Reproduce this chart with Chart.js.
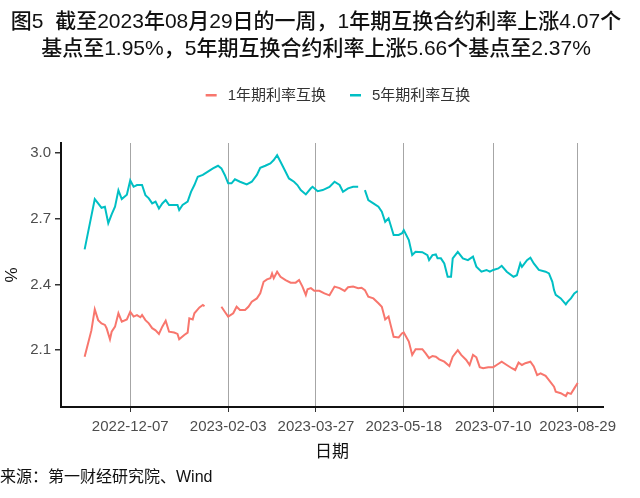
<!DOCTYPE html>
<html>
<head>
<meta charset="utf-8">
<script src="https://cdn.jsdelivr.net/npm/chart.js@4"></script>
<style>
  body { margin: 0; background: #fff; }
  #swap-chart { display: block; }
</style>
</head>
<body>
<canvas id="swap-chart" width="640" height="498"></canvas>
<script>
// 1年期利率互换
const dates1 = [
  '2022-11-10','2022-11-14','2022-11-16','2022-11-18','2022-11-20','2022-11-22','2022-11-23','2022-11-25',
  '2022-11-26','2022-11-28','2022-11-30','2022-12-02','2022-12-05','2022-12-07','2022-12-09','2022-12-11',
  '2022-12-13','2022-12-14','2022-12-16','2022-12-18','2022-12-20','2022-12-22','2022-12-24','2022-12-26',
  '2022-12-28','2022-12-30','2023-01-02','2023-01-04','2023-01-05','2023-01-08','2023-01-10','2023-01-11',
  '2023-01-13','2023-01-14','2023-01-17','2023-01-19','2023-01-20','2023-01-25','2023-01-30','2023-02-01',
  '2023-02-03','2023-02-06','2023-02-08','2023-02-10','2023-02-13','2023-02-15','2023-02-17','2023-02-20',
  '2023-02-22','2023-02-24','2023-02-26','2023-02-28','2023-03-01','2023-03-02','2023-03-04','2023-03-06',
  '2023-03-09','2023-03-12','2023-03-15','2023-03-17','2023-03-19','2023-03-21','2023-03-22','2023-03-24',
  '2023-03-26','2023-03-29','2023-04-01','2023-04-04','2023-04-07','2023-04-10','2023-04-13','2023-04-15',
  '2023-04-18','2023-04-21','2023-04-23','2023-04-25','2023-04-27','2023-04-30','2023-05-03','2023-05-05',
  '2023-05-07','2023-05-09','2023-05-10','2023-05-12','2023-05-15','2023-05-17','2023-05-18','2023-05-21',
  '2023-05-23','2023-05-25','2023-05-29','2023-05-31','2023-06-02','2023-06-04','2023-06-06','2023-06-08',
  '2023-06-11','2023-06-14','2023-06-16','2023-06-19','2023-06-21','2023-06-24','2023-06-26','2023-06-28',
  '2023-06-30','2023-07-02','2023-07-04','2023-07-07','2023-07-10','2023-07-12','2023-07-15','2023-07-18',
  '2023-07-21','2023-07-23','2023-07-25','2023-07-27','2023-07-29','2023-08-01','2023-08-03','2023-08-05',
  '2023-08-07','2023-08-10','2023-08-12','2023-08-15','2023-08-16','2023-08-19','2023-08-22','2023-08-23',
  '2023-08-25','2023-08-27','2023-08-29'
];
const rate1y = [
  2.07, 2.19, 2.286, 2.237, 2.222, 2.215, 2.20, 2.149,
  2.184, 2.207, 2.268, 2.23, 2.24, 2.275, 2.253, 2.26,
  2.25, 2.26, 2.237, 2.222, 2.20, 2.19, 2.174, 2.207,
  2.234, 2.184, 2.18, 2.174, 2.149, 2.169, 2.18, 2.245,
  2.24, 2.268, 2.295, 2.306, 2.30, null, 2.298, 2.275,
  2.253, 2.268, 2.298, 2.283, 2.283, 2.298, 2.321, 2.336,
  2.359, 2.412, 2.423, 2.428, 2.45, 2.428, 2.458, 2.435,
  2.42, 2.408, 2.408, 2.42, 2.39, 2.352, 2.378, 2.383,
  2.371, 2.371, 2.359, 2.35, 2.39, 2.383, 2.37, 2.387,
  2.39, 2.383, 2.385, 2.374, 2.344, 2.336, 2.314, 2.298,
  2.24, 2.253, 2.222, 2.161, 2.158, 2.177, 2.18, 2.139,
  2.078, 2.104, 2.104, 2.085, 2.063, 2.073, 2.07, 2.058,
  2.047, 2.027, 2.07, 2.10, 2.078, 2.055, 2.032, 2.078,
  2.067, 2.022, 2.017, 2.022, 2.022, 2.032, 2.047, 2.032,
  2.017, 2.009, 2.043, 2.032, 2.04, 2.047, 2.025, 1.986,
  1.994, 1.982, 1.963, 1.933, 1.91, 1.903, 1.89, 1.905,
  1.90, 1.925, 1.95
];

// 5年期利率互换
const dates5 = [
  '2022-11-10','2022-11-16','2022-11-18','2022-11-20','2022-11-22','2022-11-24','2022-11-26','2022-11-28',
  '2022-11-30','2022-12-02','2022-12-05','2022-12-07','2022-12-09','2022-12-11','2022-12-14','2022-12-16',
  '2022-12-18','2022-12-20','2022-12-22','2022-12-24','2022-12-26','2022-12-28','2022-12-30','2023-01-02',
  '2023-01-04','2023-01-05','2023-01-07','2023-01-10','2023-01-12','2023-01-14','2023-01-16','2023-01-19',
  '2023-01-22','2023-01-25','2023-01-28','2023-01-30','2023-02-01','2023-02-03','2023-02-05','2023-02-07',
  '2023-02-10','2023-02-14','2023-02-17','2023-02-20','2023-02-22','2023-02-25','2023-02-28','2023-03-02',
  '2023-03-04','2023-03-06','2023-03-09','2023-03-11','2023-03-14','2023-03-16','2023-03-18','2023-03-21',
  '2023-03-24','2023-03-25','2023-03-28','2023-03-31','2023-04-04','2023-04-07','2023-04-10','2023-04-12',
  '2023-04-15','2023-04-18','2023-04-21','2023-04-23','2023-04-25','2023-04-27','2023-04-30','2023-05-03',
  '2023-05-05','2023-05-07','2023-05-09','2023-05-12','2023-05-15','2023-05-17','2023-05-18','2023-05-21',
  '2023-05-23','2023-05-25','2023-05-29','2023-06-01','2023-06-02','2023-06-04','2023-06-06','2023-06-07',
  '2023-06-09','2023-06-11','2023-06-13','2023-06-15','2023-06-16','2023-06-19','2023-06-22','2023-06-25',
  '2023-06-28','2023-06-30','2023-07-03','2023-07-06','2023-07-08','2023-07-10','2023-07-13','2023-07-15',
  '2023-07-18','2023-07-22','2023-07-24','2023-07-26','2023-07-27','2023-07-30','2023-08-01','2023-08-03',
  '2023-08-06','2023-08-10','2023-08-12','2023-08-14','2023-08-15','2023-08-16','2023-08-19','2023-08-22',
  '2023-08-23','2023-08-25','2023-08-27','2023-08-29'
];
const rate5y = [
  2.56, 2.79, 2.77, 2.75, 2.755, 2.68, 2.72, 2.755,
  2.83, 2.79, 2.81, 2.875, 2.846, 2.854, 2.854, 2.808,
  2.793, 2.77, 2.778, 2.747, 2.77, 2.785, 2.763, 2.763,
  2.763, 2.74, 2.763, 2.778, 2.823, 2.854, 2.892, 2.90,
  2.915, 2.93, 2.942, 2.93, 2.90, 2.862, 2.862, 2.88,
  2.869, 2.857, 2.869, 2.90, 2.933, 2.942, 2.953, 2.968,
  2.99, 2.96, 2.915, 2.884, 2.869, 2.854, 2.831, 2.811,
  2.839, 2.846, 2.826, 2.831, 2.845, 2.869, 2.854, 2.823,
  2.839, 2.846, 2.846, null, 2.831, 2.785, 2.77, 2.755,
  2.732, 2.686, 2.702, 2.626, 2.626, 2.634, 2.648, 2.603,
  2.534, 2.549, 2.547, 2.534, 2.511, 2.534, 2.537, 2.519,
  2.519, 2.496, 2.435, 2.435, 2.519, 2.549, 2.519, 2.511,
  2.527, 2.481, 2.458, 2.466, 2.458, 2.466, 2.473, 2.485,
  2.458, 2.435, 2.442, 2.496, 2.48, 2.511, 2.522, 2.496,
  2.466, 2.458, 2.45, 2.412, 2.374, 2.352, 2.336, 2.309,
  2.32, 2.336, 2.359, 2.37
];

const tickDates = ['2022-12-07', '2023-02-03', '2023-03-27', '2023-05-18', '2023-07-10', '2023-08-29'];
const yTicks = [2.1, 2.4, 2.7, 3.0];
const seriesNames = ['1年期利率互换', '5年期利率互换'];
const seriesColors = ['#F8766D', '#00BFC4'];

const titleLines = [
  '图5  截至2023年08月29日的一周，1年期互换合约利率上涨4.07个',
  '基点至1.95%，5年期互换合约利率上涨5.66个基点至2.37%'
];
const sourceText = '来源：第一财经研究院、Wind';

const FONT = "'Liberation Sans', 'Noto Sans CJK SC', sans-serif";
const baseDay = Date.parse(tickDates[0]);
const toDay = (d) => (Date.parse(d) - baseDay) / 86400000;

const toPoints = (dates, values) => dates.map((d, i) => ({ x: toDay(d), y: values[i] }));

// title, legend, axis titles and source note
const textPlugin = {
  id: 'texts',
  afterDraw(chart) {
    const ctx = chart.ctx;
    const area = chart.chartArea;
    ctx.save();
    ctx.fillStyle = '#111';
    ctx.textBaseline = 'middle';
    ctx.textAlign = 'center';
    ctx.font = `500 21px ${FONT}`;
    ctx.fillText(titleLines[0], 316, 22);
    ctx.fillText(titleLines[1], 316, 49);

    // legend
    ctx.font = `15px ${FONT}`;
    const swatch = 11, gap = 11, between = 24;
    const widths = seriesNames.map((n) => ctx.measureText(n).width);
    const total = widths.reduce((a, w) => a + swatch + gap + w, 0) + between;
    let x = 338 - total / 2;
    ctx.textAlign = 'left';
    seriesNames.forEach((name, i) => {
      ctx.fillStyle = seriesColors[i];
      ctx.fillRect(x, 94, swatch, 2.5);
      ctx.fillStyle = '#333';
      ctx.fillText(name, x + swatch + gap, 96);
      x += swatch + gap + widths[i] + between;
    });

    // axis titles
    ctx.fillStyle = '#111';
    ctx.textAlign = 'center';
    ctx.font = `17px ${FONT}`;
    ctx.fillText('日期', (area.left + area.right) / 2, 452);
    ctx.save();
    ctx.translate(12, (area.top + area.bottom) / 2);
    ctx.rotate(-Math.PI / 2);
    ctx.fillText('%', 0, 0);
    ctx.restore();

    ctx.textAlign = 'left';
    ctx.font = `16px ${FONT}`;
    ctx.fillText(sourceText, 0, 478);
    ctx.restore();
  }
};

const ctx = document.getElementById('swap-chart').getContext('2d');
const chart = new Chart(ctx, {
  type: 'line',
  data: {
    datasets: [
      {
        label: seriesNames[0],
        data: toPoints(dates1, rate1y),
        borderColor: seriesColors[0],
        backgroundColor: seriesColors[0],
        borderWidth: 2,
        pointRadius: 0,
        spanGaps: false,
        tension: 0
      },
      {
        label: seriesNames[1],
        data: toPoints(dates5, rate5y),
        borderColor: seriesColors[1],
        backgroundColor: seriesColors[1],
        borderWidth: 2,
        pointRadius: 0,
        spanGaps: false,
        tension: 0
      }
    ]
  },
  options: {
    responsive: false,
    animation: false,
    layout: { padding: { top: 143, right: 37, left: 0, bottom: 0 } },
    plugins: {
      legend: { display: false },
      title: { display: false },
      tooltip: { enabled: false }
    },
    scales: {
      x: {
        type: 'linear',
        min: -41,
        max: 280,
        afterFit: (scale) => { scale.height = 91; },
        afterBuildTicks: (scale) => {
          scale.ticks = tickDates.map((d) => ({ value: toDay(d) }));
        },
        ticks: {
          autoSkip: false,
          maxRotation: 0,
          padding: 6,
          color: '#4d4d4d',
          font: { family: FONT, size: 15 },
          callback: (value, index) => tickDates[index]
        },
        grid: {
          color: '#a6a6a6',
          lineWidth: 1,
          tickLength: 5,
          tickColor: '#333'
        },
        border: { display: true, color: '#111', width: 2 }
      },
      y: {
        min: 1.84,
        max: 3.046,
        afterFit: (scale) => { scale.width = 61; },
        afterBuildTicks: (scale) => {
          scale.ticks = yTicks.map((v) => ({ value: v }));
        },
        ticks: {
          padding: 4,
          color: '#4d4d4d',
          font: { family: FONT, size: 15 },
          callback: (value) => value.toFixed(1)
        },
        grid: {
          drawOnChartArea: false,
          tickLength: 6,
          tickColor: '#333',
          lineWidth: 1.5
        },
        border: { display: true, color: '#111', width: 2 }
      }
    }
  },
  plugins: [textPlugin]
});
</script>
</body>
</html>
